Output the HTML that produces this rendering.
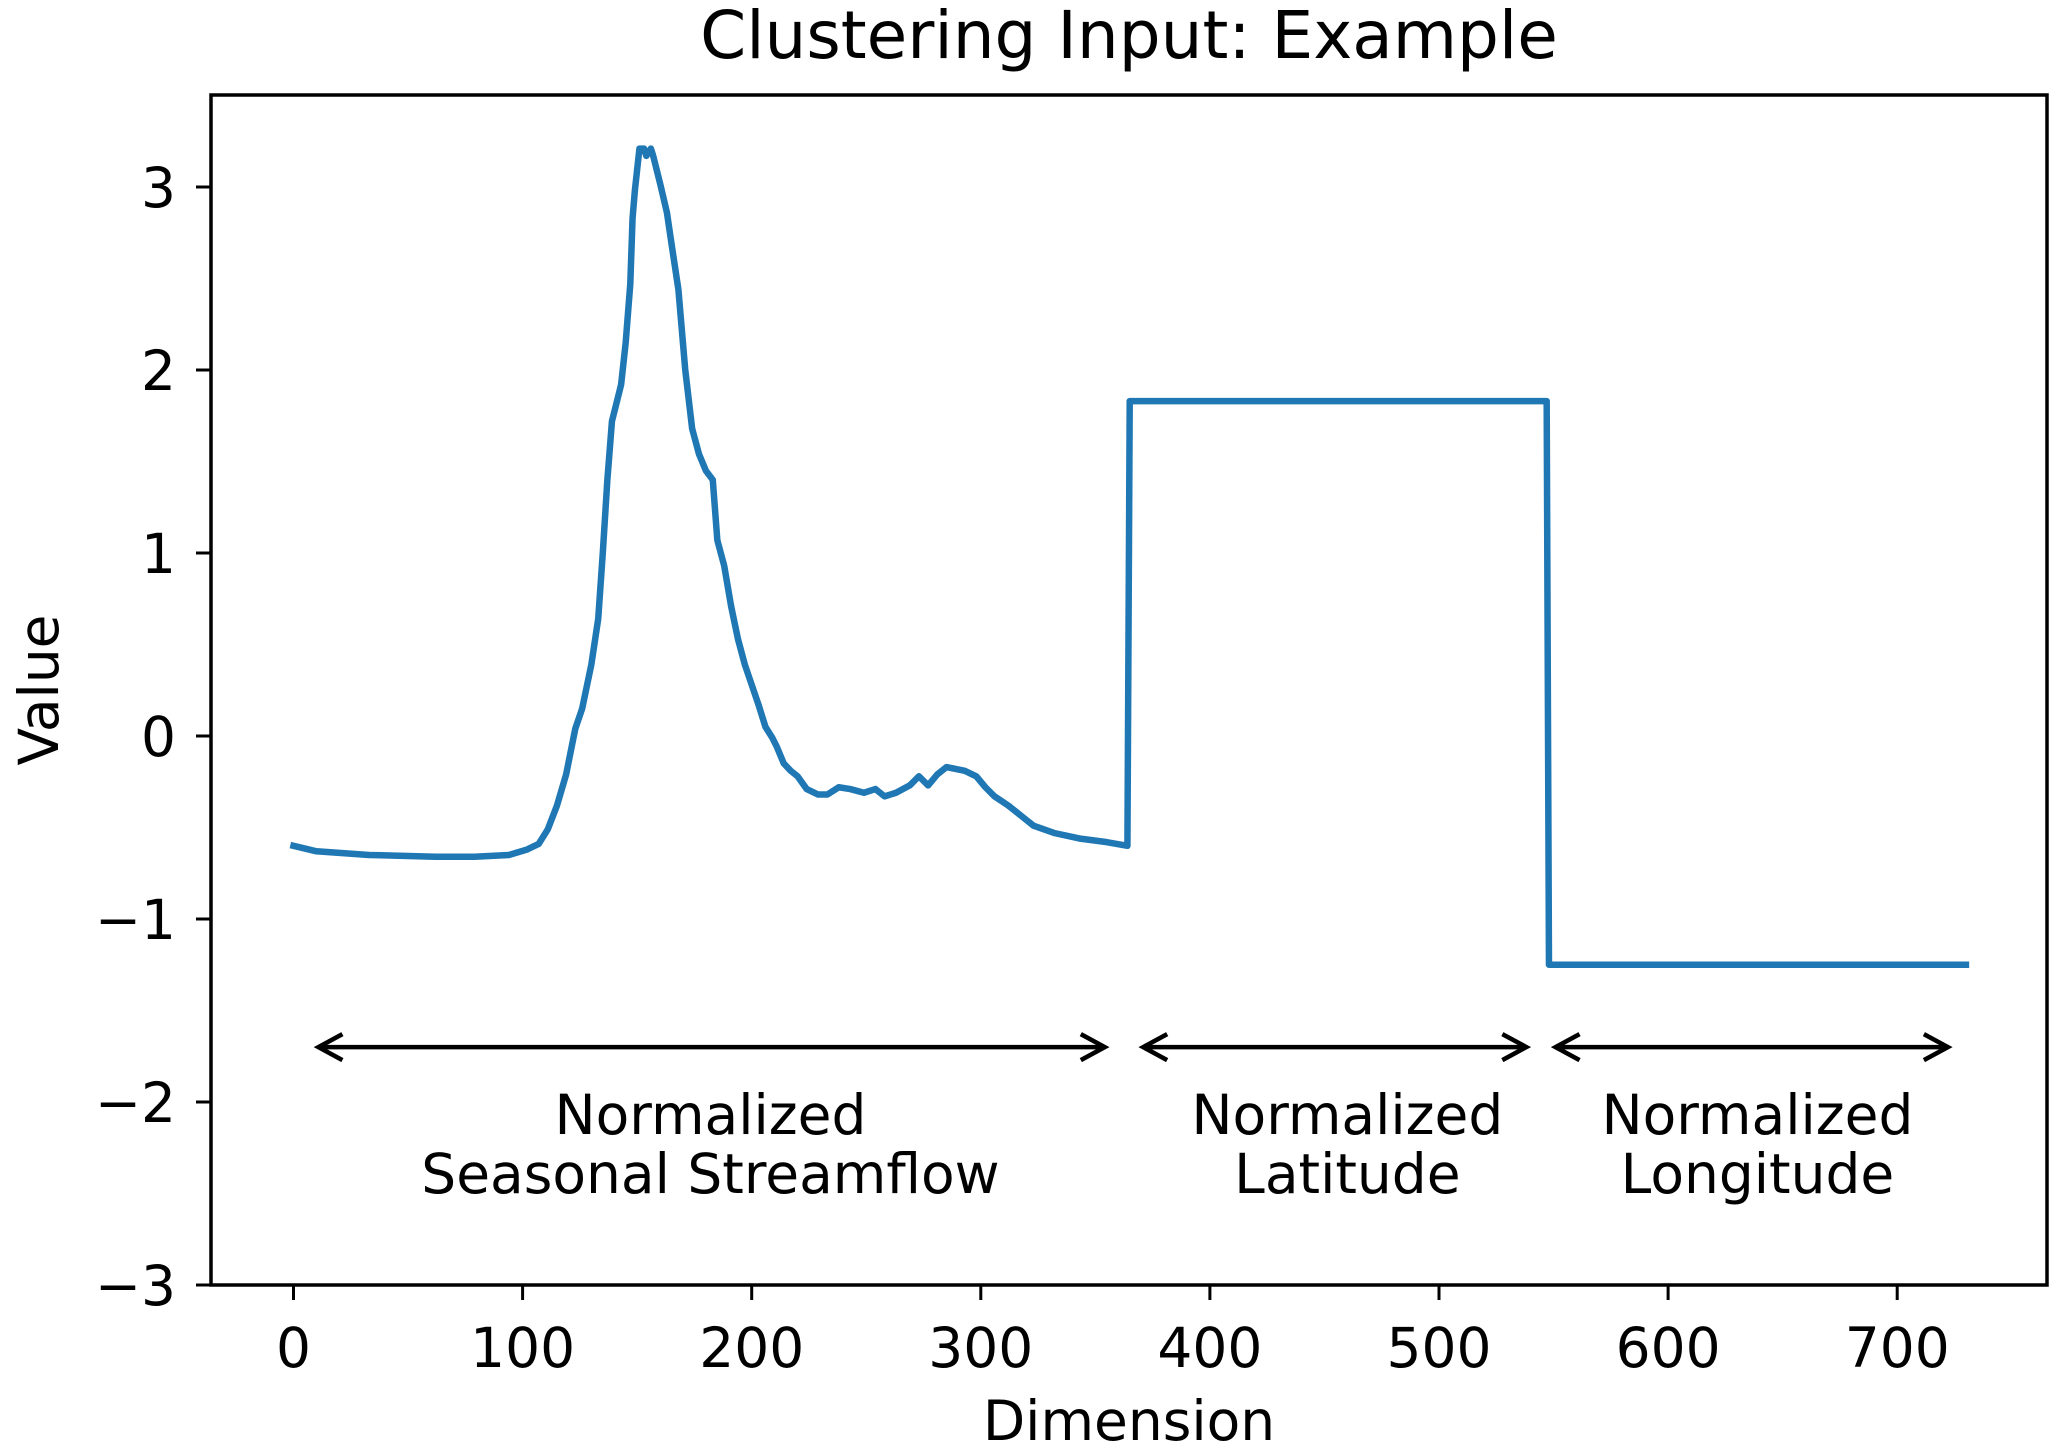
<!DOCTYPE html>
<html><head><meta charset="utf-8"><style>
html,body{margin:0;padding:0;background:#fff;}
svg{display:block;font-family:"DejaVu Sans","Liberation Sans",sans-serif;}
</style></head><body>
<svg id="chart" width="2067" height="1454" viewBox="0 0 2067 1454" xmlns="http://www.w3.org/2000/svg">
<rect x="0" y="0" width="2067" height="1454" fill="#fff"/>
<text x="1129" y="58" font-size="66" text-anchor="middle">Clustering Input: Example</text>
<g id="plot"></g>
<g id="xticks"></g>
<g id="yticks"></g>
<g id="annots"></g>
<rect x="211" y="95" width="1836" height="1190" fill="none" stroke="#000" stroke-width="3.5"/>
<text x="1129" y="1440" font-size="55" text-anchor="middle">Dimension</text>
<text x="0" y="0" font-size="55" text-anchor="middle" transform="translate(58,690) rotate(-90)">Value</text>
</svg>
<script>
const streamX = [0,10,33,62,79,94,102,107,111,115,119,123,126,130,133,135,137,139,141,143,145,147,148,149,151,153,154,156,157,160,163,165,168,171,174,177,180,183,185,188,191,194,197,200,203,206,209,211,214,217,220,224,229,233,238,243,249,254,258,263,269,273,277,281,285,289,293,298,302,306,312,318,323,332,343,355,364];
const streamY = [-0.6,-0.63,-0.65,-0.66,-0.66,-0.65,-0.62,-0.59,-0.51,-0.38,-0.21,0.04,0.15,0.39,0.64,1.0,1.4,1.72,1.82,1.92,2.15,2.47,2.83,2.98,3.21,3.21,3.17,3.21,3.17,3.02,2.86,2.69,2.44,2.0,1.68,1.54,1.45,1.4,1.07,0.93,0.71,0.53,0.39,0.28,0.17,0.05,-0.01,-0.06,-0.15,-0.19,-0.22,-0.29,-0.32,-0.32,-0.28,-0.29,-0.31,-0.29,-0.33,-0.31,-0.27,-0.22,-0.27,-0.21,-0.17,-0.18,-0.19,-0.22,-0.28,-0.33,-0.38,-0.44,-0.49,-0.53,-0.56,-0.58,-0.6];
const blockStarts = [365, 548];
const blockEnds = [547, 730];
const blockValues = [1.83, -1.25];
const xTicks = [0,100,200,300,400,500,600,700];
const yTicks = [-3,-2,-1,0,1,2,3];
const yTickLabels = ["\u22123","\u22122","\u22121","0","1","2","3"];
const arrowStarts = [10, 370, 550];
const arrowEnds = [355, 539, 723];
const arrowY = [-1.7, -1.7, -1.7];
const labelX = [182, 460, 639];
const labelLine1 = ["Normalized","Normalized","Normalized"];
const labelLine2 = ["Seasonal Streamflow","Latitude","Longitude"];

const NS = "http://www.w3.org/2000/svg";
function xs(v){ return 293.5 + v * 2.291; }
function ys(v){ return 736 - v * 183; }
function mk(tag, attrs, parent){ const e=document.createElementNS(NS,tag); for(const k in attrs) e.setAttribute(k,attrs[k]); parent.appendChild(e); return e; }

const plot = document.getElementById('plot');
let pts = streamX.map((x,i)=>xs(x)+','+ys(streamY[i]));
for(let i=0;i<blockStarts.length;i++){
  pts.push(xs(blockStarts[i])+','+ys(blockValues[i]));
  pts.push(xs(blockEnds[i])+','+ys(blockValues[i]));
}
const line = mk('polyline',{points:pts.join(' '),fill:'none',stroke:'#1f77b4','stroke-width':6.5,'stroke-linejoin':'round','stroke-linecap':'square'},plot);



const xg = document.getElementById('xticks');
xTicks.forEach(t=>{
  const l = mk('line',{x1:xs(t),x2:xs(t),y1:1285,y2:1300,stroke:'#000','stroke-width':3},xg);
  
  
  const tx = mk('text',{x:xs(t),y:1367,'font-size':55,'text-anchor':'middle'},xg);
  tx.textContent = String(t);
  
  
});
const yg = document.getElementById('yticks');
yTicks.forEach((t,i)=>{
  const l = mk('line',{x1:196,x2:211,y1:ys(t),y2:ys(t),stroke:'#000','stroke-width':3},yg);
  
  
  const tx = mk('text',{x:176,y:ys(t)+20,'font-size':55,'text-anchor':'end'},yg);
  tx.textContent = yTickLabels[i];
  
  
});

const ag = document.getElementById('annots');
for(let i=0;i<arrowStarts.length;i++){
  const x1=xs(arrowStarts[i]), x2=xs(arrowEnds[i]), y=ys(arrowY[i]);
  const g = mk('g',{},ag);
  
  
  mk('line',{x1:x1+3,x2:x2-3,y1:y,y2:y,stroke:'#000','stroke-width':4.5},g);
  mk('polyline',{points:(x1+26)+','+(y-13)+' '+(x1+2)+','+y+' '+(x1+26)+','+(y+13),fill:'none',stroke:'#000','stroke-width':4.5},g);
  mk('polyline',{points:(x2-26)+','+(y-13)+' '+(x2-2)+','+y+' '+(x2-26)+','+(y+13),fill:'none',stroke:'#000','stroke-width':4.5},g);
  const t1 = mk('text',{x:xs(labelX[i]),y:1134,'font-size':55,'text-anchor':'middle'},ag);
  t1.textContent = labelLine1[i];
  
  
  const t2 = mk('text',{x:xs(labelX[i]),y:1193,'font-size':55,'text-anchor':'middle'},ag);
  t2.textContent = labelLine2[i];
  
  
}
</script>
</body></html>
